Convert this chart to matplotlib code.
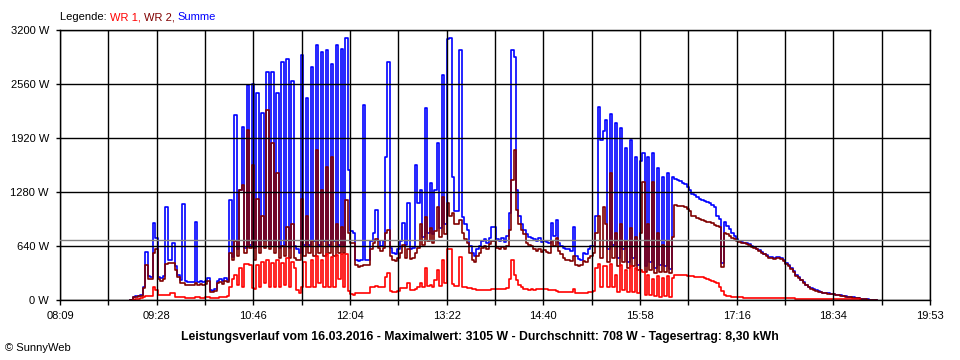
import numpy as np
import matplotlib.pyplot as plt

plt.rcParams['font.family'] = ['Liberation Sans', 'DejaVu Sans']

# one sample every 2 minutes, starting 09:00 (minutes after midnight)
t_first = 9 * 60
t_step = 2

# Summe (blue), one row = 30 minutes
summe = [
    None, None, None, 5, 40, 45, 50, 60, 160, 570, 280, 276, 912, 735, 270,
    260, 280, 1100, 480, 470, 680, 400, 300, 240, 1138, 220, 215, 210, 215, 924,
    215, 220, 215, 225, 260, 120, 110, 130, 230, 250, 230, 260, 240, 1185, 510,
    2190, 600, 1300, 2054, 620, 2548, 650, 2560, 620, 2450, 650, 2213, 700, 2706, 650,
    2700, 650, 2450, 620, 2825, 650, 2860, 620, 2600, 640, 600, 560, 2900, 650, 2400,
    650, 2765, 700, 3022, 650, 2940, 700, 2960, 650, 2800, 700, 3022, 650, 2980, 650,
    3105, 1540, 820, 800, 470, 460, 470, 2310, 470, 470, 700, 790, 1066, 700, 640,
    700, 1700, 2825, 620, 560, 550, 600, 700, 910, 650, 1146, 600, 620, 1600, 1150,
    1300, 750, 2275, 800, 1383, 780, 1300, 1856, 850, 2666, 900, 3090, 3100, 1460, 1050,
    1050, 2960, 980, 900, 830, 640, 560, 520, 600, 640, 700, 720, 680, 740, 860,
    860, 720, 700, 740, 690, 760, 1030, 2960, 2880, 1300, 1000, 900, 830, 780, 750,
    740, 720, 700, 730, 690, 700, 690, 680, 910, 760, 950, 680, 640, 620, 600,
    600, 580, 865, 520, 490, 480, 560, 540, 600, 640, 640, 1000, 2290, 1900, 2000,
    2130, 600, 2210, 650, 2100, 500, 2035, 600, 1800, 450, 1900, 500, 1700, 420, 1650,
    1740, 400, 1700, 450, 1740, 380, 1560, 420, 1460, 400, 1500, 370, 1460, 1440, 1420,
    1410, 1390, 1370, 1340, 1300, 1260, 1240, 1220, 1200, 1185, 1170, 1160, 1150, 1130, 1100,
    1000, 960, 440, 920, 880, 840, 800, 760, 720, 700, 690, 680, 670, 660, 640,
    630, 610, 590, 570, 550, 530, 510, 505, 500, 505, 510, 500, 470, 440, 410,
    380, 340, 300, 270, 240, 210, 180, 160, 140, 125, 115, 105, 95, 88, 82,
    78, 74, 70, 65, 60, 55, 47, 42, 38, 34, 30, 26, 22, 15, 10,
    8, 6, 5, 4, 2, 1,
]

# WR 2 (dark red)
wr2 = [
    None, None, None, 4, 35, 40, 42, 50, 140, 420, 250, 250, 560, 600, 250,
    230, 250, 430, 440, 440, 440, 360, 270, 200, 200, 180, 180, 178, 180, 200,
    180, 185, 180, 190, 220, 100, 95, 110, 200, 215, 195, 225, 210, 560, 470,
    700, 520, 1300, 1363, 560, 2015, 620, 1600, 480, 1200, 560, 1000, 620, 2250, 600,
    1860, 560, 1500, 500, 640, 520, 865, 500, 900, 500, 480, 470, 1200, 520, 1000,
    560, 700, 520, 1777, 560, 1300, 520, 1580, 560, 1700, 520, 900, 560, 865, 560,
    1185, 800, 680, 670, 410, 390, 400, 420, 410, 410, 600, 680, 720, 620, 580,
    620, 800, 830, 520, 470, 460, 500, 560, 650, 500, 600, 490, 500, 560, 620,
    900, 650, 980, 700, 850, 680, 820, 1100, 750, 1220, 780, 1150, 1000, 1030, 900,
    900, 950, 800, 720, 680, 560, 470, 450, 520, 560, 620, 640, 600, 660, 700,
    700, 620, 610, 630, 600, 640, 830, 1420, 1777, 1066, 900, 830, 780, 680, 650,
    640, 600, 580, 610, 570, 590, 570, 560, 700, 640, 730, 580, 540, 500, 480,
    470, 460, 520, 420, 400, 410, 460, 450, 500, 520, 560, 800, 1000, 500, 1100,
    900, 450, 1500, 500, 800, 400, 900, 450, 700, 380, 850, 400, 750, 360, 800,
    1400, 330, 900, 350, 1400, 320, 800, 330, 650, 330, 700, 320, 750, 1130, 1120,
    1120, 1110, 1100, 1080, 1050, 1000, 990, 975, 960, 950, 940, 930, 920, 910, 890,
    880, 860, 395, 800, 780, 760, 740, 720, 700, 690, 680, 670, 660, 650, 630,
    615, 600, 580, 560, 540, 520, 500, 495, 490, 495, 500, 490, 460, 430, 400,
    370, 330, 290, 262, 232, 203, 174, 154, 135, 120, 110, 100, 90, 84, 78,
    74, 70, 66, 62, 57, 52, 45, 40, 36, 32, 28, 24, 20, 13, 8,
    6, 5, 4, 3, 2, 1,
]

# WR 1 (red)
wr1 = [
    None, None, None, None, 5, 8, 10, 20, 40, 50, 45, 50, 158, 120, 60,
    55, 55, 60, 60, 83, 80, 40, 35, 30, 30, 28, 28, 28, 28, 30,
    30, 28, 28, 30, 30, 25, 25, 25, 28, 30, 30, 35, 45, 150, 250,
    300, 180, 380, 150, 430, 430, 420, 140, 130, 420, 150, 450, 200, 470, 150,
    440, 150, 470, 150, 440, 180, 500, 150, 450, 380, 120, 80, 160, 450, 150,
    150, 480, 150, 520, 200, 470, 150, 550, 150, 510, 150, 530, 250, 540, 150,
    550, 110, 70, 60, 79, 79, 79, 79, 79, 79, 150, 158, 165, 158, 150,
    150, 277, 316, 110, 100, 100, 110, 138, 140, 138, 198, 120, 118, 125, 160,
    200, 150, 375, 170, 180, 160, 240, 355, 170, 474, 200, 600, 610, 190, 170,
    170, 513, 160, 150, 145, 140, 135, 125, 118, 118, 118, 118, 120, 120, 125,
    130, 128, 130, 130, 128, 140, 250, 474, 300, 237, 180, 158, 130, 125, 120,
    125, 122, 125, 130, 125, 128, 125, 122, 120, 118, 110, 100, 95, 95, 90,
    95, 90, 130, 80, 80, 80, 80, 85, 95, 100, 110, 380, 430, 150, 400,
    400, 150, 430, 150, 300, 100, 420, 120, 350, 90, 400, 100, 380, 80, 350,
    330, 60, 300, 60, 250, 50, 280, 40, 260, 50, 280, 40, 260, 300, 296,
    296, 294, 292, 290, 285, 280, 278, 277, 275, 272, 265, 250, 235, 225, 210,
    200, 160, 110, 60, 50, 45, 40, 36, 34, 30, 30, 28, 28, 28, 28,
    28, 28, 28, 28, 28, 28, 28, 28, 28, 28, 28, 28, 28, 28, 28,
    28, 28, 12, 12, 12, 12, 12, 12, 12, 12, 12, 12, 12, 12, 12,
    12, 12, 12, 12, 12, 12, 12, 12, 12, 12, 12, 12, 12, None, None,
    None, None, None, None, None, None,
]

durchschnitt = 708
x_start, x_end = 8 * 60 + 9, 19 * 60 + 53
x_labels = ["08:09", "09:28", "10:46", "12:04", "13:22",
            "14:40", "15:58", "17:16", "18:34", "19:53"]
y_ticks = [0, 640, 1280, 1920, 2560, 3200]
y_labels = ["0 W", "640 W", "1280 W", "1920 W", "2560 W", "3200 W"]
titel = ("Leistungsverlauf vom 16.03.2016 - Maximalwert: 3105 W - "
         "Durchschnitt: 708 W - Tagesertrag: 8,30 kWh")


def as_array(vals):
    return np.array([np.nan if v is None else v for v in vals], dtype=float)


t = t_first + t_step * np.arange(len(summe))

fig = plt.figure(figsize=(9.6, 3.6), dpi=100)
ax = fig.add_axes([60 / 960, 60 / 360, 870 / 960, 270 / 360])

ax.step(t, as_array(summe), where='post', color='#0000ff', lw=1.2)
ax.step(t, as_array(wr2), where='post', color='#800000', lw=1.2)
ax.step(t, as_array(wr1), where='post', color='#ff0000', lw=1.2)
ax.axhline(durchschnitt, color='#808080', lw=1.0, zorder=3)

ax.set_xlim(x_start, x_end)
ax.set_ylim(0, 3200)

grid_x = np.linspace(x_start, x_end, 2 * len(x_labels) - 1)
ax.set_xticks(grid_x)
ax.set_xticklabels([x_labels[i // 2] if i % 2 == 0 else "" for i in range(len(grid_x))])
ax.set_yticks(y_ticks)
ax.set_yticklabels(y_labels)

ax.set_axisbelow(False)
ax.grid(True, color='black', lw=1.0)
for sp in ax.spines.values():
    sp.set_color('black')
    sp.set_linewidth(1.0)

ax.tick_params(axis='x', length=3.8, width=1.0, pad=4, labelsize=8)
ax.tick_params(axis='y', length=3, width=1.0, pad=5, labelsize=8)

# legend line at the top, coloured word by word
parts = [("Legende: ", "black"), ("WR 1, ", "#ff0000"),
         ("WR 2, ", "#800000"), ("Summe", "#0000ff")]
prev = ax.annotate(parts[0][0], xy=(60 / 960, 1 - 17 / 360), xycoords='figure fraction',
                   color=parts[0][1], fontsize=8, va='center', ha='left')
for txt, col in parts[1:]:
    prev = ax.annotate(txt, xy=(1, 0), xycoords=prev, color=col, fontsize=8,
                       va='bottom', ha='left')

fig.text(0.5, 1 - 337 / 360, titel, ha='center', va='center',
         fontsize=8.8, fontweight='bold')
fig.text(5 / 960, 1 - 348 / 360, "\u00a9 SunnyWeb", ha='left', va='center', fontsize=8)

fig.savefig('out.png', dpi=100)
